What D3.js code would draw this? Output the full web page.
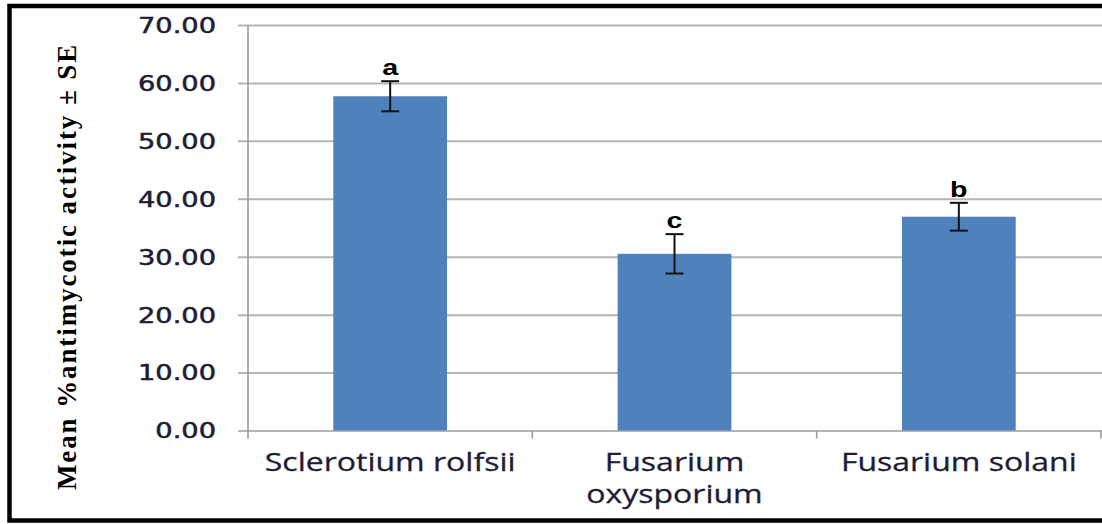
<!DOCTYPE html>
<html>
<head>
<meta charset="utf-8">
<script src="https://cdn.jsdelivr.net/npm/d3@7"></script>
<style>
  html, body { margin: 0; padding: 0; background: #fff; }
  svg { display: block; }
</style>
</head>
<body>
<svg id="chart" width="1102" height="524"></svg>
<script>
// Fungal pathogens tested
const categories = ["Sclerotium rolfsii", "Fusarium oxysporium", "Fusarium solani"];
// Mean % antimycotic activity
const means = [57.7, 30.5, 36.9];
// Standard error of each mean
const stdErrors = [2.6, 3.4, 2.4];
// Significance grouping letters
const groupLetters = ["a", "c", "b"];
// Y axis tick values
const yTicks = [0, 10, 20, 30, 40, 50, 60, 70];

const W = 1102, H = 524;
const plot = { left: 248, right: 1101, top: 25, bottom: 430.5 };

const svg = d3.select("#chart");

// outer frame (left, top, bottom edges)
svg.append("path")
  .attr("d", `M${W},6 H9.5 V520.5 H${W}`)
  .attr("fill", "none")
  .attr("stroke", "#000")
  .attr("stroke-width", 4.5);

const y = d3.scaleLinear().domain([0, 70]).range([plot.bottom, plot.top]);
const x = d3.scaleBand().domain(categories).range([plot.left, plot.right]).padding(0);
const barW = x.bandwidth() / 2.5;

// horizontal gridlines with left tick stubs
const grid = svg.append("g")
  .attr("transform", `translate(${plot.left - 10},0)`)
  .call(d3.axisLeft(y).tickValues(yTicks).tickSize(-(W - plot.left + 10)).tickFormat(""));
grid.select(".domain").remove();
grid.selectAll(".tick line").attr("stroke", "#b5b5b5").attr("stroke-width", 2);

// y axis line and tick labels
const tickScaleX = 1.33;
const yAxis = svg.append("g")
  .attr("transform", `translate(${plot.left},0)`)
  .call(d3.axisLeft(y).tickValues(yTicks).tickSize(0).tickFormat(d3.format(".2f")));
yAxis.select(".domain").remove();
yAxis.selectAll(".tick text")
  .attr("x", -32 / tickScaleX)
  .attr("dy", "0.36em")
  .attr("transform", `scale(${tickScaleX},1)`)
  .attr("font-family", "'DejaVu Sans', Verdana, sans-serif")
  .attr("font-size", 20.5)
  .attr("fill", "#1d1d35")
  .attr("stroke", "#1d1d35")
  .attr("stroke-width", 0.5);
svg.append("line")
  .attr("x1", plot.left).attr("x2", plot.left)
  .attr("y1", y(70)).attr("y2", plot.bottom + 8)
  .attr("stroke", "#9a9a9a").attr("stroke-width", 1.6);

// category boundary ticks on the x axis
svg.append("g").selectAll("line")
  .data(categories)
  .join("line")
  .attr("x1", d => x(d) + x.step()).attr("x2", d => x(d) + x.step())
  .attr("y1", plot.bottom).attr("y2", plot.bottom + 8)
  .attr("stroke", "#9a9a9a").attr("stroke-width", 1.6);

// bars
svg.append("g").selectAll("rect")
  .data(categories)
  .join("rect")
  .attr("x", d => x(d) + (x.bandwidth() - barW) / 2)
  .attr("width", barW)
  .attr("y", (d, i) => y(means[i]))
  .attr("height", (d, i) => y(0) - y(means[i]))
  .attr("fill", "#4f81bd");

// error bars
const capW = 18;
const eb = svg.append("g").attr("stroke", "#111").attr("stroke-width", 2);
categories.forEach((c, i) => {
  const cx = x(c) + x.bandwidth() / 2;
  const hi = y(means[i] + stdErrors[i]), lo = y(means[i] - stdErrors[i]);
  eb.append("line").attr("x1", cx).attr("x2", cx).attr("y1", hi).attr("y2", lo);
  eb.append("line").attr("x1", cx - capW / 2).attr("x2", cx + capW / 2).attr("y1", hi).attr("y2", hi);
  eb.append("line").attr("x1", cx - capW / 2).attr("x2", cx + capW / 2).attr("y1", lo).attr("y2", lo);
});

// significance letters above error bars
const letterScaleX = 1.3;
svg.append("g").selectAll("text")
  .data(categories)
  .join("text")
  .attr("transform", (d, i) =>
    `translate(${x(d) + x.bandwidth() / 2},${y(means[i] + stdErrors[i]) - 6}) scale(${letterScaleX},1)`)
  .attr("text-anchor", "middle")
  .attr("font-family", "'Liberation Sans', Arial, sans-serif")
  .attr("font-weight", "bold")
  .attr("font-size", 22)
  .attr("fill", "#000")
  .text((d, i) => groupLetters[i]);

// category labels, wrapped when wider than the band
const catScaleX = 1.28;
const catG = svg.append("g");
categories.forEach(c => {
  const t = catG.append("text")
    .attr("transform", `translate(${x(c) + x.bandwidth() / 2},471) scale(${catScaleX},1)`)
    .attr("text-anchor", "middle")
    .attr("font-family", "'Open Sans', sans-serif")
    .attr("font-size", 25)
    .attr("fill", "#1d1d35")
    .attr("stroke", "#1d1d35")
    .attr("stroke-width", 0.3)
    .text(c);
  if (t.node().getComputedTextLength() * catScaleX > x.step() * 0.95) {
    const words = c.split(" ");
    t.text(null);
    words.forEach((w, k) => {
      t.append("tspan").attr("x", 0).attr("dy", k === 0 ? 0 : 32).text(w);
    });
  }
});

// y axis title
svg.append("text")
  .attr("transform", `translate(76,${(43 + 490) / 2}) rotate(-90)`)
  .attr("text-anchor", "middle")
  .attr("font-family", "'Liberation Serif', 'Times New Roman', serif")
  .attr("font-weight", "bold")
  .attr("font-size", 27)
  .attr("letter-spacing", 1.9)
  .attr("fill", "#000")
  .text("Mean  %antimycotic  activity  \u00B1 SE");
</script>
</body>
</html>
